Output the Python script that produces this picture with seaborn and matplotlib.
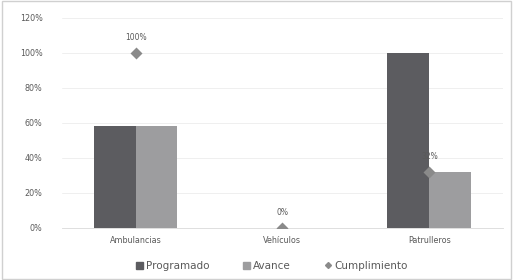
import matplotlib
matplotlib.use("Agg")
import matplotlib.pyplot as plt
import seaborn as sns
import pandas as pd
from matplotlib.patches import Rectangle, Patch
from matplotlib.lines import Line2D

categories = ["Ambulancias", "Vehículos", "Patrulleros"]
programado = [0.58, 0.0, 1.00]
avance = [0.58, 0.0, 0.32]
cumplimiento = [1.00, 0.0, 0.32]
cumpl_labels = ["100%", "0%", "32%"]
y_ticks = [0, 0.2, 0.4, 0.6, 0.8, 1.0, 1.2]
y_ticklabels = ["0%", "20%", "40%", "60%", "80%", "100%", "120%"]

sns.set_theme(style="white")
plt.rcParams['font.family'] = ['DejaVu Sans']

df = pd.DataFrame({
    "Categoria": categories * 2,
    "Serie": ["Programado"] * 3 + ["Avance"] * 3,
    "Valor": programado + avance,
})
df_c = pd.DataFrame({"Categoria": categories, "Valor": cumplimiento})

fig = plt.figure(figsize=(5.13, 2.80), dpi=100)
ax = fig.add_axes([0.121, 0.186, 0.859, 0.75])

sns.barplot(data=df, x="Categoria", y="Valor", hue="Serie",
            palette={"Programado": "#5c5c60", "Avance": "#9d9d9f"},
            width=0.57, saturation=1, ax=ax, legend=False, zorder=2,
            linewidth=0, edgecolor="none")
sns.pointplot(data=df_c, x="Categoria", y="Valor", color="#8a8a8a",
              markers="D", linestyle="none", markersize=4.5, ax=ax, zorder=3)

for i, (v, lab) in enumerate(zip(cumplimiento, cumpl_labels)):
    ax.annotate(lab, (i, v), xytext=(0, 8), textcoords="offset points",
                ha="center", va="bottom", fontsize=5.5, color="#595959")

ax.set_ylim(0, 1.2)
ax.set_yticks(y_ticks)
ax.set_yticklabels(y_ticklabels)
ax.set_xlim(-0.5, 2.5)
ax.set_xlabel("")
ax.set_ylabel("")
ax.tick_params(axis="both", labelsize=5.8, colors="#595959", length=0)
ax.tick_params(axis="y", pad=14)
ax.tick_params(axis="x", pad=6)
ax.yaxis.grid(True, color="#ececec", linewidth=0.6, zorder=0)
ax.set_axisbelow(True)
for s in ["top", "right", "left"]:
    ax.spines[s].set_visible(False)
ax.spines["bottom"].set_color("#d9d9d9")
ax.spines["bottom"].set_linewidth(0.6)

handles = [Patch(color="#5c5c60"), Patch(color="#9d9d9f"),
           Line2D([], [], marker="D", color="#8a8a8a", linestyle="none", markersize=3)]
fig.legend(handles, ["Programado", "Avance", "Cumplimiento"], loc="center",
           bbox_to_anchor=(0.53, 0.05), ncol=3, frameon=False, fontsize=7.5,
           handlelength=0.7, handletextpad=0.3, columnspacing=3.2,
           labelcolor="#595959")

fig.patches.append(Rectangle((0.004, 0.004), 0.992, 0.992, transform=fig.transFigure,
                             fill=False, edgecolor="#d0d0d0", linewidth=1))

fig.savefig("out.png", dpi=100)
